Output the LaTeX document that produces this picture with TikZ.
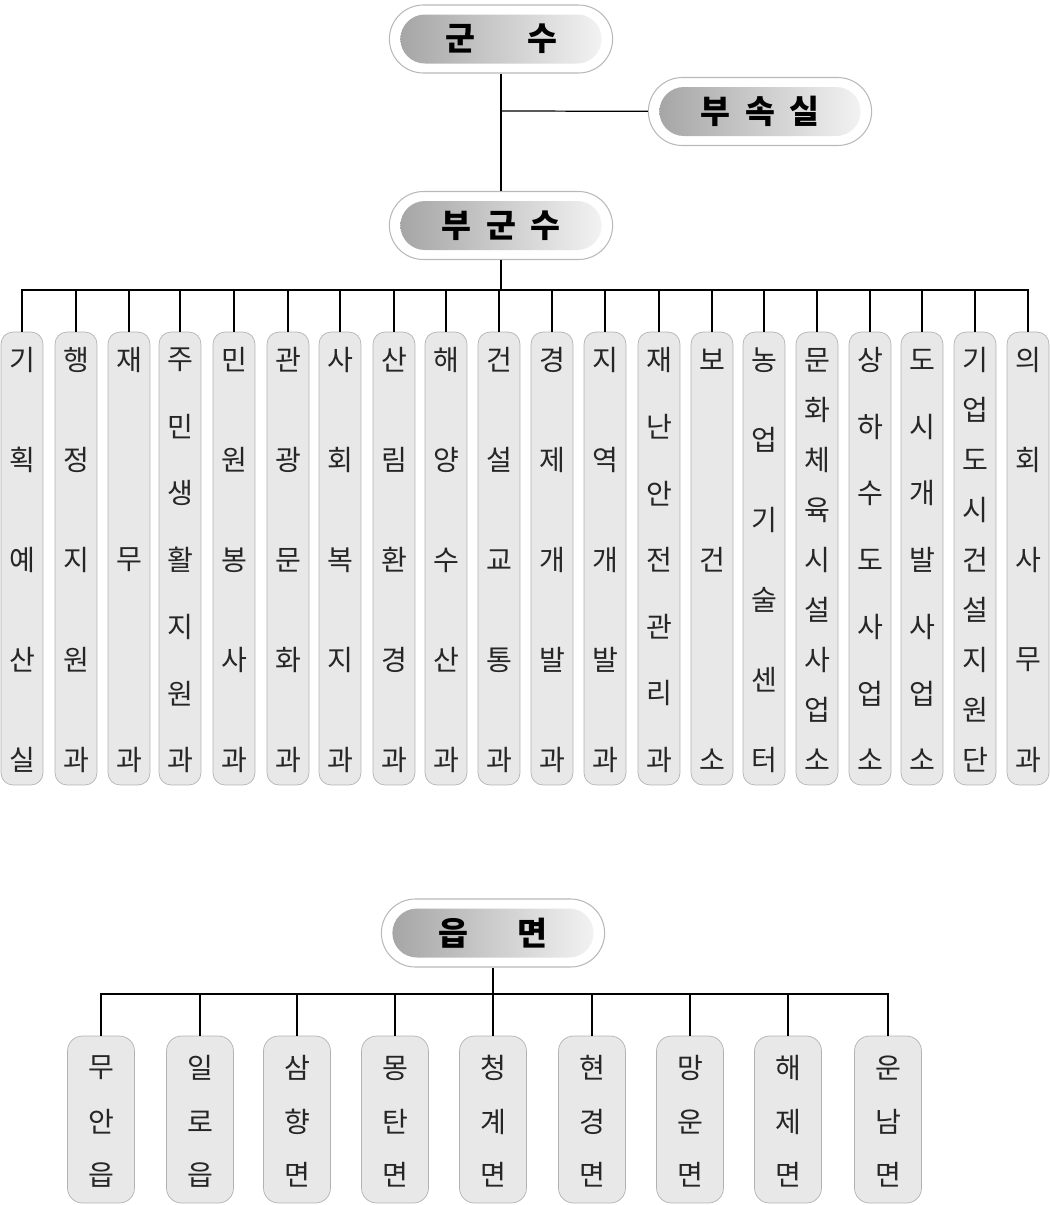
\documentclass[tikz,border=0pt]{standalone}
\usepackage{fontspec}
\setmainfont{Noto Sans CJK KR}
\usetikzlibrary{shapes.misc}

\tikzset{
  link/.style={line width=0.7pt, black},
  pillout/.style={rounded rectangle, draw=gray!55, fill=white, line width=0.6pt,
    minimum width=4.7cm, minimum height=1.36cm},
  pillin/.style={rounded rectangle, left color=gray!70, right color=gray!10,
    minimum width=4.26cm, minimum height=0.98cm, font=\fontsize{18.5}{20}\selectfont\bfseries},
  deptbox/.style={draw=gray!60, fill=gray!18, line width=0.4pt, rounded corners=0.24cm,
    minimum width=0.84cm, minimum height=9.06cm},
  depttext/.style={font=\fontsize{16}{18}\selectfont, text=black!85, inner sep=0pt},
  townbox/.style={draw=gray!60, fill=gray!18, line width=0.4pt, rounded corners=0.3cm,
    minimum width=1.34cm, minimum height=3.34cm},
}

% department column: name, x, number of letters, letters
\newcommand\dept[4]{%
  \node[deptbox] (#1) at (#2,558.5) {};
  \foreach \ch [count=\k] in {#4}
    \node[depttext] (#1-\k) at (#2,{360+(\k-1)*400/(#3-1)}) {\ch};
}
% town column: name, x, letters
\newcommand\town[3]{%
  \node[townbox] (#1) at (#2,1119.5) {};
  \foreach \ch [count=\k] in {#3}
    \node[depttext] (#1-\k) at (#2,{1068+(\k-1)*53.5}) {\ch};
}

\begin{document}
\begin{tikzpicture}[x=0.02cm, y=-0.02cm]
\useasboundingbox (0,0) rectangle (1050,1205);

% top offices
\node[pillout] (gunsu) at (501,39) {};
\node[pillin] (gunsu-in) at (501,39) {군\hspace{1.6em}수};
\node[pillout] (busok) at (760,111.5) {};
\node[pillin] (busok-in) at (760,111.5) {부\hspace{0.45em}속\hspace{0.45em}실};
\node[pillout] (bugunsu) at (501,225.5) {};
\node[pillin] (bugunsu-in) at (501,225.5) {부\hspace{0.45em}군\hspace{0.45em}수};
\coordinate (jct) at (501,111);
\coordinate (bus) at (501,290);

\draw[link] (gunsu) -- (bugunsu);
\draw[link] (jct) -- (busok);
\draw[link] (bugunsu) -- (bus);

% departments
\dept{d1}{22}{5}{기,획,예,산,실}
\dept{d2}{76}{5}{행,정,지,원,과}
\dept{d3}{129}{3}{재,무,과}
\dept{d4}{180}{7}{주,민,생,활,지,원,과}
\dept{d5}{234}{5}{민,원,봉,사,과}
\dept{d6}{288}{5}{관,광,문,화,과}
\dept{d7}{340}{5}{사,회,복,지,과}
\dept{d8}{394}{5}{산,림,환,경,과}
\dept{d9}{446}{5}{해,양,수,산,과}
\dept{d10}{499}{5}{건,설,교,통,과}
\dept{d11}{552}{5}{경,제,개,발,과}
\dept{d12}{605}{5}{지,역,개,발,과}
\dept{d13}{659}{7}{재,난,안,전,관,리,과}
\dept{d14}{712}{3}{보,건,소}
\dept{d15}{764}{6}{농,업,기,술,센,터}
\dept{d16}{817}{9}{문,화,체,육,시,설,사,업,소}
\dept{d17}{870}{7}{상,하,수,도,사,업,소}
\dept{d18}{922}{7}{도,시,개,발,사,업,소}
\dept{d19}{975}{9}{기,업,도,시,건,설,지,원,단}
\dept{d20}{1028}{5}{의,회,사,무,과}

\foreach \n in {1,...,20}
  \draw[link] (d\n.north) |- (bus);

% towns
\node[pillout] (eupmyeon) at (493,933) {};
\node[pillin] (eupmyeon-in) at (493,933) {읍\hspace{1.5em}면};
\coordinate (tbus) at (493,994);

\town{t1}{101}{무,안,읍}
\town{t2}{200}{일,로,읍}
\town{t3}{297}{삼,향,면}
\town{t4}{395}{몽,탄,면}
\town{t5}{493}{청,계,면}
\town{t6}{592}{현,경,면}
\town{t7}{690}{망,운,면}
\town{t8}{788}{해,제,면}
\town{t9}{888}{운,남,면}

\draw[link] (eupmyeon) -- (tbus);
\foreach \n in {1,...,9}
  \draw[link] (t\n.north) |- (tbus);
\end{tikzpicture}
\end{document}
